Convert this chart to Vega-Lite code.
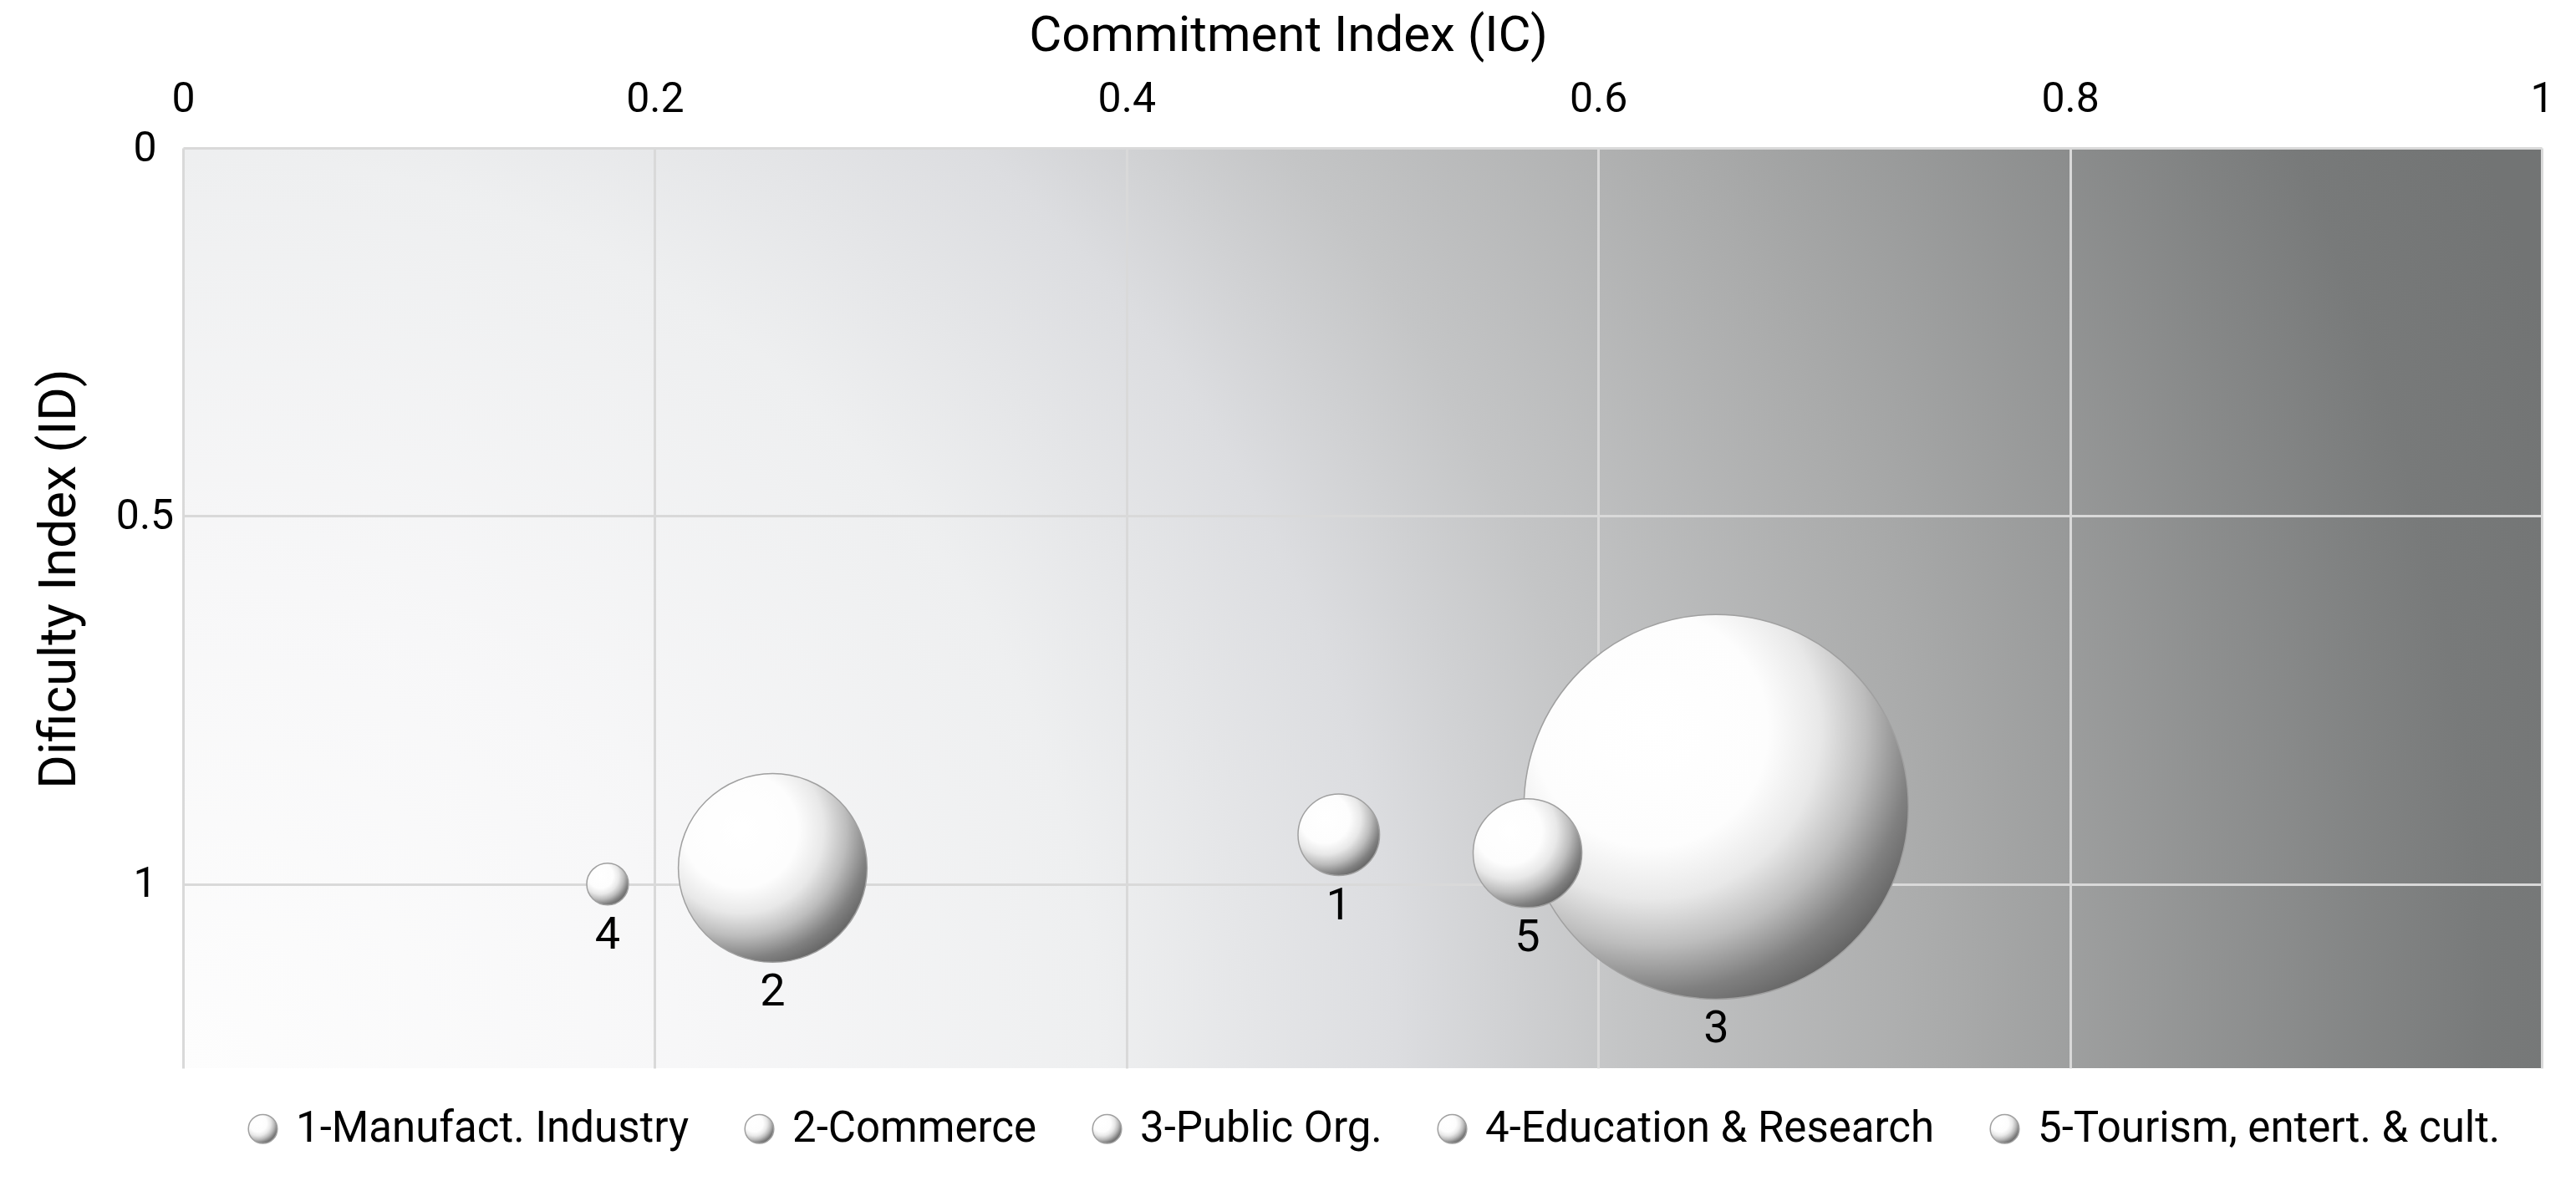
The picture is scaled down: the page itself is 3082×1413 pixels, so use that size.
{
  "$schema": "https://vega.github.io/schema/vega-lite/v6.json",
  "width": 2822,
  "height": 1101,
  "autosize": {"type": "none"},
  "padding": {"left": 219, "top": 177, "right": 41, "bottom": 135},
  "background": "#ffffff",
  "data": {
    "values": [
      {"sector": "1-Manufact. Industry", "id": "1", "IC": 0.49, "ID": 0.933, "size": 4.5},
      {"sector": "2-Commerce", "id": "2", "IC": 0.25, "ID": 0.978, "size": 24.1},
      {"sector": "3-Public Org.", "id": "3", "IC": 0.65, "ID": 0.895, "size": 100},
      {"sector": "4-Education & Research", "id": "4", "IC": 0.18, "ID": 1.0, "size": 1.18},
      {"sector": "5-Tourism, entert. & cult.", "id": "5", "IC": 0.57, "ID": 0.958, "size": 8.0}
    ]
  },
  "encoding": {
    "x": {
      "field": "IC", "type": "quantitative",
      "scale": {"domain": [0, 1], "nice": false, "zero": false},
      "axis": {"orient": "top", "title": "Commitment Index (IC)", "titleFontSize": 60, "titleX": 1322, "values": [0, 0.2, 0.4, 0.6, 0.8, 1], "format": "~g", "labelPadding": 34, "titlePadding": 20}
    },
    "y": {
      "field": "ID", "type": "quantitative",
      "scale": {"domain": [0, 1.25], "reverse": true, "nice": false, "zero": false},
      "axis": {"title": "Dificulty Index (ID)", "titleFontSize": 62, "titleY": 515, "values": [0, 0.5, 1], "format": "~g", "labelAlign": "center", "labelPadding": 46, "titlePadding": 36}
    }
  },
  "layer": [
    {
      "mark": {
        "type": "point",
        "shape": "circle",
        "filled": true,
        "opacity": 1,
        "fill": {
          "gradient": "radial", "x1": 0.33, "y1": 0.3, "r1": 0, "x2": 0.33, "y2": 0.3, "r2": 0.8,
          "stops": [
            {"offset": 0, "color": "#ffffff"},
            {"offset": 0.38, "color": "#fdfdfd"},
            {"offset": 0.55, "color": "#e8e8e8"},
            {"offset": 0.7, "color": "#bdbdbd"},
            {"offset": 0.85, "color": "#808080"},
            {"offset": 1, "color": "#585858"}
          ]
        },
        "stroke": "#a0a0a0",
        "strokeWidth": 1.5
      },
      "encoding": {
        "size": {"field": "size", "type": "quantitative", "scale": {"type": "linear", "domain": [0, 100], "range": [0, 211600], "zero": true}, "legend": null},
        "shape": {
          "field": "sector", "type": "nominal",
          "scale": {"range": ["circle", "circle", "circle", "circle", "circle"]},
          "legend": {
            "title": null,
            "orient": "none",
            "legendX": 70,
            "legendY": 1148,
            "direction": "horizontal",
            "symbolSize": 1200,
            "labelFontSize": 51,
            "labelOffset": 14,
            "columnPadding": 58,
            "labelLimit": 1000,
            "encode": {
              "symbols": {
                "update": {
                  "fill": {"value": {
                    "gradient": "radial", "x1": 0.33, "y1": 0.3, "r1": 0, "x2": 0.33, "y2": 0.3, "r2": 0.8,
                    "stops": [
                      {"offset": 0, "color": "#ffffff"},
                      {"offset": 0.4, "color": "#f6f6f6"},
                      {"offset": 0.65, "color": "#cccccc"},
                      {"offset": 0.85, "color": "#939393"},
                      {"offset": 1, "color": "#777777"}
                    ]
                  }},
                  "stroke": {"value": "#c0c0c0"},
                  "strokeWidth": {"value": 1},
                  "opacity": {"value": 1}
                }
              }
            }
          }
        }
      }
    },
    {
      "mark": {"type": "text", "fontSize": 54, "baseline": "middle", "align": "center", "color": "#000000"},
      "encoding": {
        "text": {"field": "id", "type": "nominal"},
        "theta": {"value": 3.14159},
        "radius": {"field": "size", "type": "quantitative", "scale": {"type": "sqrt", "domain": [0, 100], "range": [36, 266], "zero": false}}
      }
    }
  ],
  "config": {
    "font": "Roboto",
    "view": {
      "stroke": null,
      "fill": {
        "gradient": "radial", "x1": 0, "y1": 0.695, "r1": 0, "x2": 0, "y2": 0.695, "r2": 1.05,
        "stops": [
          {"offset": 0, "color": "#fdfdfd"},
          {"offset": 0.2, "color": "#f7f7f8"},
          {"offset": 0.37, "color": "#eeeff0"},
          {"offset": 0.49, "color": "#dcdde0"},
          {"offset": 0.58, "color": "#c4c5c6"},
          {"offset": 0.71, "color": "#aaabab"},
          {"offset": 0.93, "color": "#787a7a"},
          {"offset": 1, "color": "#727474"}
        ]
      }
    },
    "axis": {
      "domain": false,
      "ticks": false,
      "grid": true,
      "gridColor": "#d9d9d9",
      "gridWidth": 3,
      "gridOpacity": 1,
      "labelFontSize": 50,
      "labelColor": "#000000",
      "labelFlush": false,
      "labelOverlap": false,
      "titleFontWeight": "normal",
      "titleColor": "#000000"
    },
    "legend": {"labelColor": "#000000"}
  }
}
